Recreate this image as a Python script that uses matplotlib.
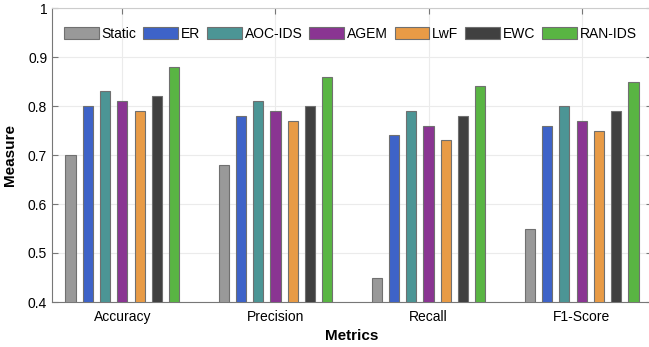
import numpy as np
import matplotlib.pyplot as plt
from matplotlib.ticker import FuncFormatter

plt.rcParams['font.family'] = ['Liberation Sans', 'DejaVu Sans']

metrics = ['Accuracy', 'Precision', 'Recall', 'F1-Score']
methods = ['Static', 'ER', 'AOC-IDS', 'AGEM', 'LwF', 'EWC', 'RAN-IDS']
colors = ['#999999', '#3e63c8', '#4c9595', '#8a3592', '#e89b46', '#404040', '#59b543']

static = [0.70, 0.68, 0.45, 0.55]
er = [0.80, 0.78, 0.74, 0.76]
aoc_ids = [0.83, 0.81, 0.79, 0.80]
agem = [0.81, 0.79, 0.76, 0.77]
lwf = [0.79, 0.77, 0.73, 0.75]
ewc = [0.82, 0.80, 0.78, 0.79]
ran_ids = [0.88, 0.86, 0.84, 0.85]
values = [static, er, aoc_ids, agem, lwf, ewc, ran_ids]

fig = plt.figure(figsize=(6.49, 3.47), dpi=100)
ax = fig.add_axes([52 / 649, 45 / 347, 600 / 649, 294 / 347])

x = np.arange(1, len(metrics) + 1)
pitch = 0.113
width = 0.066
for i, (name, vals) in enumerate(zip(methods, values)):
    ax.bar(x + (i - 3) * pitch, vals, width, color=colors[i], edgecolor='#707070',
           linewidth=0.8, label=name, zorder=3)

ax.set_xlim(0.54, 4.46)
ax.set_ylim(0.4, 1.0)
ax.set_xticks(x)
ax.set_xticklabels(metrics, fontsize=10)
ax.set_yticks(np.arange(0.4, 1.01, 0.1))
ax.yaxis.set_major_formatter(FuncFormatter(lambda v, p: '1' if abs(v - 1) < 1e-6 else f'{v:.1f}'))
ax.tick_params(axis='both', direction='in', labelsize=10, length=4, color='#777777',
               top=True, right=True)
ax.tick_params(axis='x', pad=6)
ax.grid(True, color='#ebebeb', linewidth=0.8, zorder=0)
for side in ['top', 'right']:
    ax.spines[side].set_color('#cccccc')
for side in ['left', 'bottom']:
    ax.spines[side].set_color('#777777')

ax.set_ylabel('Measure', fontsize=11, fontweight='bold', labelpad=8)
ax.set_xlabel('Metrics', fontsize=11, fontweight='bold', labelpad=3)

ax.legend(loc='upper left', bbox_to_anchor=(0.004, 0.97), ncol=7, frameon=False,
          fontsize=10, handlelength=2.5, handleheight=1.0, handletextpad=0.2,
          columnspacing=0.5, borderaxespad=0.3)

fig.savefig('out.png', dpi=100)
